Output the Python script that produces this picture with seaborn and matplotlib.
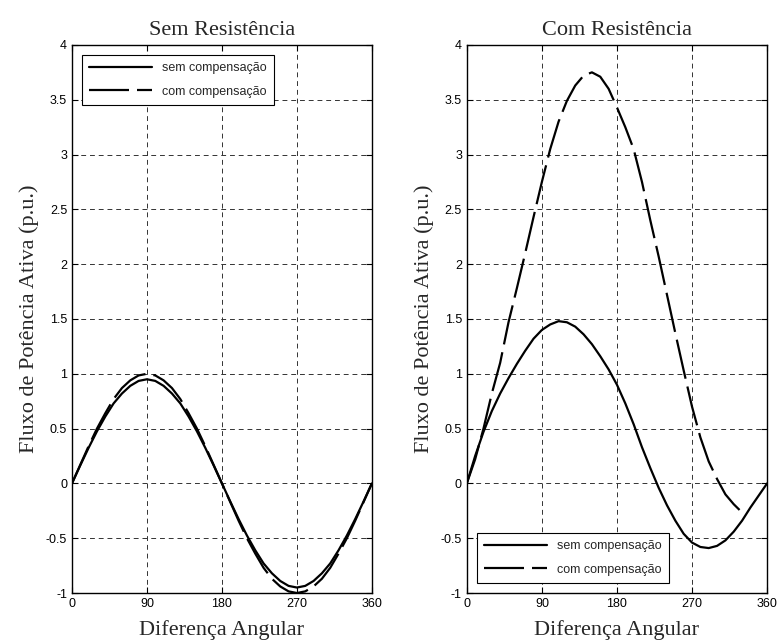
"""Fluxo de potencia ativa: sem/com resistencia, sem/com compensacao."""

import matplotlib
matplotlib.use("Agg")
import matplotlib.pyplot as plt
import pandas as pd
import seaborn as sns

# --- dados ------------------------------------------------------------------
angulo_esq = list(range(0, 361, 10))
sem_comp_esq = [0.00, 0.165, 0.325, 0.475, 0.61, 0.73, 0.82, 0.89, 0.935, 0.95,
                0.935, 0.89, 0.82, 0.73, 0.61, 0.475, 0.325, 0.165, 0.00,
                -0.165, -0.325, -0.475, -0.61, -0.73, -0.82, -0.89, -0.935, -0.95,
                -0.935, -0.89, -0.82, -0.73, -0.61, -0.475, -0.325, -0.165, 0.00]
com_comp_esq = [0.00, 0.17, 0.34, 0.50, 0.64, 0.77, 0.87, 0.94, 0.985, 1.00,
                0.985, 0.94, 0.87, 0.77, 0.64, 0.50, 0.34, 0.17, 0.00,
                -0.17, -0.34, -0.50, -0.64, -0.77, -0.87, -0.94, -0.985, -1.00,
                -0.985, -0.94, -0.87, -0.77, -0.64, -0.50, -0.34, -0.17, 0.00]

angulo_dir_sem = list(range(0, 361, 10))
sem_comp_dir = [0.00, 0.25, 0.47, 0.66, 0.82, 0.96, 1.09, 1.21, 1.32, 1.40,
                1.45, 1.48, 1.47, 1.43, 1.36, 1.27, 1.16, 1.04, 0.90, 0.73,
                0.54, 0.33, 0.14, -0.04, -0.20, -0.34, -0.46, -0.54, -0.58,
                -0.59, -0.57, -0.52, -0.44, -0.34, -0.22, -0.11, 0.00]

angulo_dir_com = list(range(0, 321, 10)) + [328]
com_comp_dir = [0.00, 0.22, 0.50, 0.82, 1.10, 1.47, 1.78, 2.10, 2.43, 2.75,
                3.05, 3.30, 3.49, 3.63, 3.72, 3.75, 3.71, 3.60, 3.43, 3.25,
                3.05, 2.75, 2.40, 2.07, 1.72, 1.37, 1.03, 0.70, 0.42, 0.20,
                0.04, -0.10, -0.19, -0.25]

series = ["sem compensação", "com compensação"]
titulos = ["Sem Resistência", "Com Resistência"]
x_ticks = [0, 90, 180, 270, 360]
y_ticks = [-1, -0.5, 0, 0.5, 1, 1.5, 2, 2.5, 3, 3.5, 4]
y_ticklabels = ["-1", "-0.5", "0", "0.5", "1", "1.5", "2", "2.5", "3", "3.5", "4"]


def make_df(x_sem, y_sem, x_com, y_com):
    return pd.concat([
        pd.DataFrame({"angulo": x_sem, "P": y_sem, "serie": series[0]}),
        pd.DataFrame({"angulo": x_com, "P": y_com, "serie": series[1]}),
    ], ignore_index=True)


dfs = [
    make_df(angulo_esq, sem_comp_esq, angulo_esq, com_comp_esq),
    make_df(angulo_dir_sem, sem_comp_dir, angulo_dir_com, com_comp_dir),
]

sns.set_style("ticks")
plt.rcParams["font.family"] = ["Liberation Sans", "DejaVu Sans"]
plt.rcParams["xtick.direction"] = "in"
plt.rcParams["ytick.direction"] = "in"

fig = plt.figure(figsize=(7.78, 6.42), dpi=100)
ax_esq = fig.add_axes([0.0925, 0.0763, 0.3855, 0.8537])
ax_dir = fig.add_axes([0.600, 0.0763, 0.386, 0.8537])

serif = ["Liberation Serif", "DejaVu Serif"]
for ax, df, titulo, loc in zip([ax_esq, ax_dir], dfs, titulos, ["upper left", "lower left"]):
    sns.lineplot(data=df, x="angulo", y="P", style="serie", style_order=series,
                 dashes={series[0]: "", series[1]: (18, 3.6)},
                 color="black", linewidth=1.6, sort=False, estimator=None, ax=ax)
    ax.set_xlim(0, 360)
    ax.set_ylim(-1, 4)
    ax.set_xticks(x_ticks)
    ax.set_yticks(y_ticks)
    ax.set_yticklabels(y_ticklabels)
    ax.tick_params(labelsize=9, length=4, width=0.8, top=True, right=True, colors="black")
    ax.grid(True, color="#333333", linestyle=(0, (5, 4)), linewidth=0.7)
    for s in ax.spines.values():
        s.set_linewidth(1.0)
        s.set_color("black")
    ax.set_title(titulo, family=serif, fontsize=16, pad=7)
    ax.set_xlabel("Diferença Angular", family=serif, fontsize=16, labelpad=7)
    ax.set_ylabel("Fluxo de Potência Ativa (p.u.)", family=serif, fontsize=16, labelpad=5)
    leg = ax.legend(loc=loc, fontsize=9, handlelength=5, frameon=True, fancybox=False,
                    edgecolor="black", framealpha=1, borderaxespad=0.8,
                    labelspacing=0.9, borderpad=0.6)
    leg.get_frame().set_linewidth(0.8)

fig.savefig("out.png", dpi=100)
plt.close(fig)
